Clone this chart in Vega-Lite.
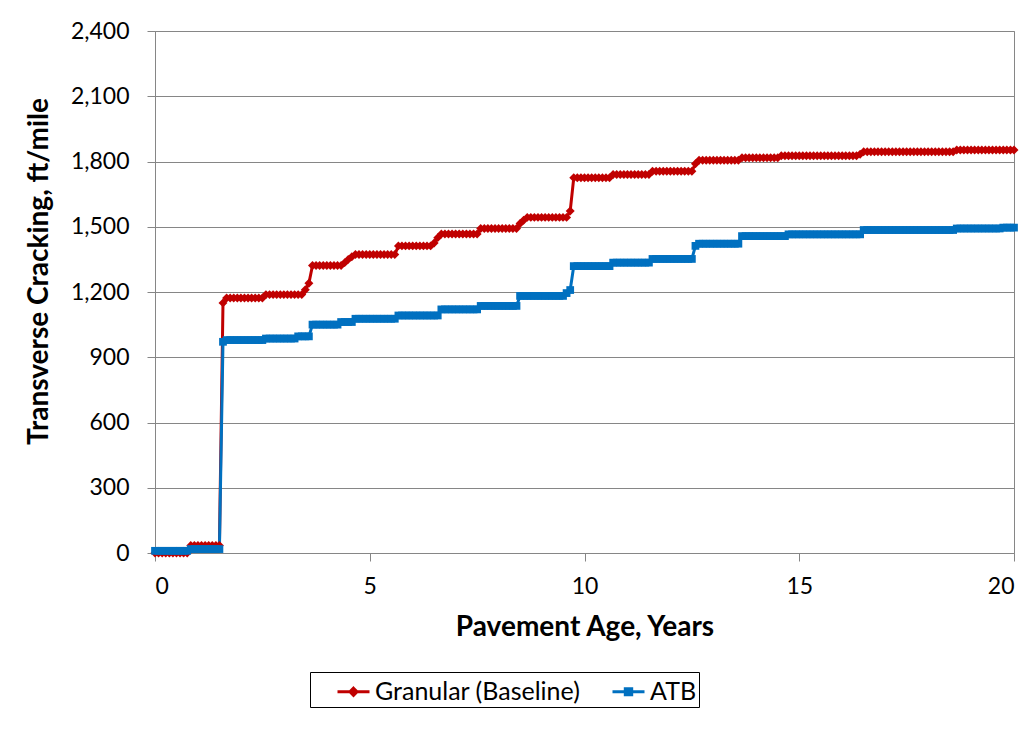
{
  "$schema": "https://vega.github.io/schema/vega-lite/v6.json",
  "width": 859,
  "height": 522,
  "autosize": "none",
  "padding": {"left": 155, "top": 31, "right": 20, "bottom": 178},
  "background": "white",
  "config": {
    "font": "Lato",
    "view": {"stroke": "#868686", "strokeWidth": 1},
    "axis": {
      "domainColor": "#868686",
      "tickColor": "#868686",
      "gridColor": "#868686",
      "gridWidth": 1,
      "labelColor": "black",
      "titleColor": "black",
      "labelFont": "Lato",
      "titleFont": "Lato",
      "labelFontSize": 23,
      "titleFontSize": 28,
      "titleFontWeight": "bold",
      "tickSize": 8
    }
  },
  "data": {
    "values": [
      {"t":0,"g":0,"a":10},{"t":0.083,"g":0,"a":10},{"t":0.167,"g":0,"a":10},{"t":0.25,"g":0,"a":10},{"t":0.333,"g":0,"a":10},{"t":0.417,"g":0,"a":10},{"t":0.5,"g":0,"a":10},{"t":0.583,"g":0,"a":10},{"t":0.667,"g":0,"a":10},{"t":0.75,"g":0,"a":10},
      {"t":0.833,"g":35,"a":18},{"t":0.917,"g":35,"a":18},{"t":1,"g":35,"a":18},{"t":1.083,"g":35,"a":18},{"t":1.167,"g":35,"a":18},{"t":1.25,"g":35,"a":18},{"t":1.333,"g":35,"a":18},{"t":1.417,"g":35,"a":18},{"t":1.5,"g":35,"a":18},
      {"t":1.583,"g":1150,"a":971},
      {"t":1.667,"g":1172,"a":979},{"t":1.75,"g":1172,"a":979},{"t":1.833,"g":1172,"a":979},{"t":1.917,"g":1172,"a":979},{"t":2,"g":1172,"a":979},{"t":2.083,"g":1172,"a":979},{"t":2.167,"g":1172,"a":979},{"t":2.25,"g":1172,"a":979},{"t":2.333,"g":1172,"a":979},{"t":2.417,"g":1172,"a":979},{"t":2.5,"g":1172,"a":979},
      {"t":2.583,"g":1188,"a":986},{"t":2.667,"g":1188,"a":986},{"t":2.75,"g":1188,"a":986},{"t":2.833,"g":1188,"a":986},{"t":2.917,"g":1188,"a":986},{"t":3,"g":1188,"a":986},{"t":3.083,"g":1188,"a":986},{"t":3.167,"g":1188,"a":986},{"t":3.25,"g":1188,"a":986},
      {"t":3.333,"g":1188,"a":996},{"t":3.417,"g":1188,"a":996},{"t":3.5,"g":1210,"a":996},{"t":3.583,"g":1240,"a":996},
      {"t":3.667,"g":1322,"a":1050},{"t":3.75,"g":1322,"a":1050},{"t":3.833,"g":1322,"a":1050},{"t":3.917,"g":1322,"a":1050},{"t":4,"g":1322,"a":1050},{"t":4.083,"g":1322,"a":1050},{"t":4.167,"g":1322,"a":1050},{"t":4.25,"g":1322,"a":1050},
      {"t":4.333,"g":1322,"a":1062},{"t":4.417,"g":1335,"a":1062},{"t":4.5,"g":1350,"a":1062},{"t":4.583,"g":1362,"a":1062},
      {"t":4.667,"g":1372,"a":1077},{"t":4.75,"g":1372,"a":1077},{"t":4.833,"g":1372,"a":1077},{"t":4.917,"g":1372,"a":1077},{"t":5,"g":1372,"a":1077},{"t":5.083,"g":1372,"a":1077},{"t":5.167,"g":1372,"a":1077},{"t":5.25,"g":1372,"a":1077},{"t":5.333,"g":1372,"a":1077},{"t":5.417,"g":1372,"a":1077},{"t":5.5,"g":1372,"a":1077},{"t":5.583,"g":1372,"a":1077},
      {"t":5.667,"g":1412,"a":1092},{"t":5.75,"g":1412,"a":1092},{"t":5.833,"g":1412,"a":1092},{"t":5.917,"g":1412,"a":1092},{"t":6,"g":1412,"a":1092},{"t":6.083,"g":1412,"a":1092},{"t":6.167,"g":1412,"a":1092},{"t":6.25,"g":1412,"a":1092},{"t":6.333,"g":1412,"a":1092},{"t":6.417,"g":1412,"a":1092},
      {"t":6.5,"g":1425,"a":1092},{"t":6.583,"g":1450,"a":1092},
      {"t":6.667,"g":1467,"a":1120},{"t":6.75,"g":1467,"a":1120},{"t":6.833,"g":1467,"a":1120},{"t":6.917,"g":1467,"a":1120},{"t":7,"g":1467,"a":1120},{"t":7.083,"g":1467,"a":1120},{"t":7.167,"g":1467,"a":1120},{"t":7.25,"g":1467,"a":1120},{"t":7.333,"g":1467,"a":1120},{"t":7.417,"g":1467,"a":1120},{"t":7.5,"g":1467,"a":1120},
      {"t":7.583,"g":1492,"a":1136},{"t":7.667,"g":1492,"a":1136},{"t":7.75,"g":1492,"a":1136},{"t":7.833,"g":1492,"a":1136},{"t":7.917,"g":1492,"a":1136},{"t":8,"g":1492,"a":1136},{"t":8.083,"g":1492,"a":1136},{"t":8.167,"g":1492,"a":1136},{"t":8.25,"g":1492,"a":1136},{"t":8.333,"g":1492,"a":1136},{"t":8.417,"g":1492,"a":1136},
      {"t":8.5,"g":1515,"a":1182},{"t":8.583,"g":1530,"a":1182},
      {"t":8.667,"g":1543,"a":1182},{"t":8.75,"g":1543,"a":1182},{"t":8.833,"g":1543,"a":1182},{"t":8.917,"g":1543,"a":1182},{"t":9,"g":1543,"a":1182},{"t":9.083,"g":1543,"a":1182},{"t":9.167,"g":1543,"a":1182},{"t":9.25,"g":1543,"a":1182},{"t":9.333,"g":1543,"a":1182},{"t":9.417,"g":1543,"a":1182},{"t":9.5,"g":1543,"a":1182},
      {"t":9.583,"g":1543,"a":1195},{"t":9.667,"g":1572,"a":1209},
      {"t":9.75,"g":1725,"a":1319},{"t":9.833,"g":1725,"a":1319},{"t":9.917,"g":1725,"a":1319},{"t":10,"g":1725,"a":1319},{"t":10.083,"g":1725,"a":1319},{"t":10.167,"g":1725,"a":1319},{"t":10.25,"g":1725,"a":1319},{"t":10.333,"g":1725,"a":1319},{"t":10.417,"g":1725,"a":1319},{"t":10.5,"g":1725,"a":1319},{"t":10.583,"g":1725,"a":1319},
      {"t":10.667,"g":1740,"a":1335},{"t":10.75,"g":1740,"a":1335},{"t":10.833,"g":1740,"a":1335},{"t":10.917,"g":1740,"a":1335},{"t":11,"g":1740,"a":1335},{"t":11.083,"g":1740,"a":1335},{"t":11.167,"g":1740,"a":1335},{"t":11.25,"g":1740,"a":1335},{"t":11.333,"g":1740,"a":1335},{"t":11.417,"g":1740,"a":1335},{"t":11.5,"g":1740,"a":1335},
      {"t":11.583,"g":1755,"a":1352},{"t":11.667,"g":1755,"a":1352},{"t":11.75,"g":1755,"a":1352},{"t":11.833,"g":1755,"a":1352},{"t":11.917,"g":1755,"a":1352},{"t":12,"g":1755,"a":1352},{"t":12.083,"g":1755,"a":1352},{"t":12.167,"g":1755,"a":1352},{"t":12.25,"g":1755,"a":1352},{"t":12.333,"g":1755,"a":1352},{"t":12.417,"g":1755,"a":1352},{"t":12.5,"g":1755,"a":1352},
      {"t":12.583,"g":1790,"a":1412},
      {"t":12.667,"g":1806,"a":1422},{"t":12.75,"g":1806,"a":1422},{"t":12.833,"g":1806,"a":1422},{"t":12.917,"g":1806,"a":1422},{"t":13,"g":1806,"a":1422},{"t":13.083,"g":1806,"a":1422},{"t":13.167,"g":1806,"a":1422},{"t":13.25,"g":1806,"a":1422},{"t":13.333,"g":1806,"a":1422},{"t":13.417,"g":1806,"a":1422},{"t":13.5,"g":1806,"a":1422},{"t":13.583,"g":1806,"a":1422},
      {"t":13.667,"g":1817,"a":1457},{"t":13.75,"g":1817,"a":1457},{"t":13.833,"g":1817,"a":1457},{"t":13.917,"g":1817,"a":1457},{"t":14,"g":1817,"a":1457},{"t":14.083,"g":1817,"a":1457},{"t":14.167,"g":1817,"a":1457},{"t":14.25,"g":1817,"a":1457},{"t":14.333,"g":1817,"a":1457},{"t":14.417,"g":1817,"a":1457},{"t":14.5,"g":1817,"a":1457},
      {"t":14.583,"g":1826,"a":1457},{"t":14.667,"g":1826,"a":1457},
      {"t":14.75,"g":1826,"a":1465},{"t":14.833,"g":1826,"a":1465},{"t":14.917,"g":1826,"a":1465},{"t":15,"g":1826,"a":1465},{"t":15.083,"g":1826,"a":1465},{"t":15.167,"g":1826,"a":1465},{"t":15.25,"g":1826,"a":1465},{"t":15.333,"g":1826,"a":1465},{"t":15.417,"g":1826,"a":1465},{"t":15.5,"g":1826,"a":1465},{"t":15.583,"g":1826,"a":1465},{"t":15.667,"g":1826,"a":1465},{"t":15.75,"g":1826,"a":1465},{"t":15.833,"g":1826,"a":1465},{"t":15.917,"g":1826,"a":1465},{"t":16,"g":1826,"a":1465},{"t":16.083,"g":1826,"a":1465},{"t":16.167,"g":1826,"a":1465},{"t":16.25,"g":1826,"a":1465},{"t":16.333,"g":1826,"a":1465},
      {"t":16.417,"g":1833,"a":1465},
      {"t":16.5,"g":1845,"a":1485},{"t":16.583,"g":1845,"a":1485},{"t":16.667,"g":1845,"a":1485},{"t":16.75,"g":1845,"a":1485},{"t":16.833,"g":1845,"a":1485},{"t":16.917,"g":1845,"a":1485},{"t":17,"g":1845,"a":1485},{"t":17.083,"g":1845,"a":1485},{"t":17.167,"g":1845,"a":1485},{"t":17.25,"g":1845,"a":1485},{"t":17.333,"g":1845,"a":1485},{"t":17.417,"g":1845,"a":1485},{"t":17.5,"g":1845,"a":1485},{"t":17.583,"g":1845,"a":1485},{"t":17.667,"g":1845,"a":1485},{"t":17.75,"g":1845,"a":1485},{"t":17.833,"g":1845,"a":1485},{"t":17.917,"g":1845,"a":1485},{"t":18,"g":1845,"a":1485},{"t":18.083,"g":1845,"a":1485},{"t":18.167,"g":1845,"a":1485},{"t":18.25,"g":1845,"a":1485},{"t":18.333,"g":1845,"a":1485},{"t":18.417,"g":1845,"a":1485},{"t":18.5,"g":1845,"a":1485},{"t":18.583,"g":1845,"a":1485},
      {"t":18.667,"g":1853,"a":1492},{"t":18.75,"g":1853,"a":1492},{"t":18.833,"g":1853,"a":1492},{"t":18.917,"g":1853,"a":1492},{"t":19,"g":1853,"a":1492},{"t":19.083,"g":1853,"a":1492},{"t":19.167,"g":1853,"a":1492},{"t":19.25,"g":1853,"a":1492},{"t":19.333,"g":1853,"a":1492},{"t":19.417,"g":1853,"a":1492},{"t":19.5,"g":1853,"a":1492},{"t":19.583,"g":1853,"a":1492},{"t":19.667,"g":1853,"a":1492},
      {"t":19.75,"g":1853,"a":1496},{"t":19.833,"g":1853,"a":1496},{"t":19.917,"g":1853,"a":1496},{"t":20,"g":1853,"a":1496}
    ]
  },
  "transform": [{"fold": ["g", "a"], "as": ["s", "v"]}],
  "encoding": {
    "x": {
      "field": "t",
      "type": "quantitative",
      "scale": {"domain": [0, 20], "nice": false},
      "axis": {
        "values": [0, 5, 10, 15, 20],
        "grid": false,
        "title": "Pavement Age, Years",
        "labelPadding": 14,
        "titlePadding": 15
      }
    },
    "y": {
      "field": "v",
      "type": "quantitative",
      "scale": {"domain": [0, 2400], "nice": false},
      "axis": {
        "values": [0, 300, 600, 900, 1200, 1500, 1800, 2100, 2400],
        "format": ",d",
        "title": "Transverse Cracking, ft/mile",
        "titleY": 240,
        "labelPadding": 18,
        "titlePadding": 17
      }
    },
    "color": {
      "field": "s",
      "type": "nominal",
      "scale": {"domain": ["g", "a"], "range": ["#C00000", "#0070C0"]},
      "legend": {
        "orient": "none",
        "legendX": 155,
        "legendY": 641,
        "direction": "horizontal",
        "title": null,
        "strokeColor": "black",
        "padding": 2,
        "labelFont": "Lato",
        "labelFontSize": 25,
        "labelColor": "black",
        "labelLimit": 400,
        "labelOffset": 28,
        "columnPadding": 6,
        "symbolSize": 1024,
        "symbolStrokeWidth": 3,
        "labelExpr": "datum.value == 'g' ? 'Granular (Baseline)' : 'ATB'",
        "encode": {
          "symbols": {
            "update": {
              "shape": {"signal": "datum.value == 'g' ? 'M0.5,0H2.5M1.5,-0.22L1.72,0L1.5,0.22L1.28,0Z' : 'M0.5,0H2.5M1.3,-0.19H1.7V0.19H1.3Z'"},
              "fill": {"scale": "color", "field": "value"},
              "stroke": {"scale": "color", "field": "value"},
              "strokeWidth": {"value": 3},
              "opacity": {"value": 1}
            }
          }
        }
      }
    }
  },
  "layer": [
    {"mark": {"type": "line", "strokeWidth": 3}},
    {
      "transform": [{"filter": "datum.s == 'g'"}],
      "mark": {"type": "point", "shape": "diamond", "filled": true, "opacity": 1, "size": 80}
    },
    {
      "transform": [{"filter": "datum.s == 'a'"}],
      "mark": {"type": "point", "shape": "square", "filled": true, "opacity": 1, "size": 60}
    }
  ]
}
